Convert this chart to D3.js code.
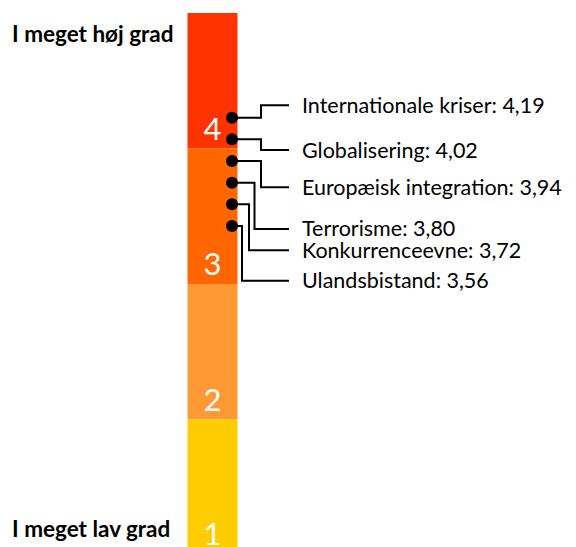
<!DOCTYPE html>
<html>
<head>
<meta charset="utf-8">
<script src="https://cdn.jsdelivr.net/npm/d3@7"></script>
<style>
  html, body { margin: 0; padding: 0; background: #fff; }
  svg { display: block; }
  text { font-family: Lato, "Open Sans", sans-serif; }
</style>
</head>
<body>
<svg id="chart" width="576" height="547"></svg>
<script>
// ---- data ----
const levels = [4, 3, 2, 1];            // scale levels (segment labels)
const levelColors = ["#FF3300", "#FF6600", "#FF9933", "#FFCC00"];
const topLabel = "I meget høj grad";
const bottomLabel = "I meget lav grad";
const topics = ["Internationale kriser", "Globalisering", "Europæisk integration",
                "Terrorisme", "Konkurrenceevne", "Ulandsbistand"];
const scores = [4.19, 4.02, 3.94, 3.80, 3.72, 3.56];

// ---- layout (annotation placement, not data) ----
const labelDy = [-12.4, 10.7, 26.3, 46.3, 46, 54.7];
const elbowX  = [261, 261, 261, 254.5, 249, 242];

const fmt = v => d3.format(".2f")(v).replace(".", ",");

const svg = d3.select("#chart");

const barX0 = 187.5, barW = 50;
const yBar = d3.scaleLinear().domain([5, 1]).range([13, 555]);

// bar segments
svg.append("g").selectAll("rect")
  .data(levels)
  .join("rect")
  .attr("x", barX0)
  .attr("width", barW)
  .attr("y", d => yBar(d + 1))
  .attr("height", d => yBar(d) - yBar(d + 1))
  .attr("fill", (d, i) => levelColors[i]);

// level numbers
svg.append("g").selectAll("text")
  .data(levels)
  .join("text")
  .attr("x", barX0 + barW / 2)
  .attr("y", d => Math.min(yBar(d) - 9, 545))
  .attr("text-anchor", "middle")
  .attr("fill", "#fff")
  .attr("font-size", 31)
  .text(d => d);

// end labels
svg.append("text").attr("x", 12).attr("y", 41.5)
  .attr("font-size", 22.5).attr("font-weight", "bold").attr("fill", "#000")
  .text(topLabel);
svg.append("text").attr("x", 12).attr("y", 537)
  .attr("font-size", 22.5).attr("font-weight", "bold").attr("fill", "#000")
  .text(bottomLabel);

// dots positioned by topic rank
const yDot = d3.scalePoint().domain(topics).range([117.7, 226]);
const dotX = 232;
const lineEndX = 289;

const items = topics.map((t, i) => ({ t, v: scores[i], i }));

svg.append("g").selectAll("path")
  .data(items)
  .join("path")
  .attr("fill", "none")
  .attr("stroke", "#000")
  .attr("stroke-width", 2)
  .attr("d", d => {
    const y0 = yDot(d.t), y1 = y0 + labelDy[d.i];
    return d3.line()([[dotX, y0], [elbowX[d.i], y0], [elbowX[d.i], y1], [lineEndX, y1]]);
  });

svg.append("g").selectAll("circle")
  .data(items)
  .join("circle")
  .attr("cx", dotX)
  .attr("cy", d => yDot(d.t))
  .attr("r", 6)
  .attr("fill", "#000");

svg.append("g").selectAll("text")
  .data(items)
  .join("text")
  .attr("x", 302)
  .attr("y", d => yDot(d.t) + labelDy[d.i] + 7.5)
  .attr("font-size", 21.5)
  .attr("fill", "#000")
  .text(d => `${d.t}: ${fmt(d.v)}`);
</script>
</body>
</html>
